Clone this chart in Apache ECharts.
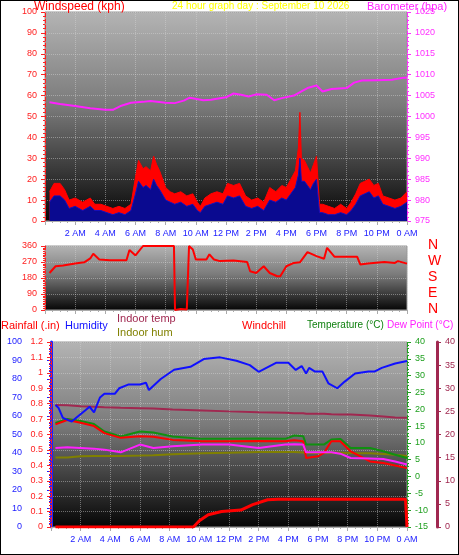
<!DOCTYPE html>
<html><head><meta charset="utf-8">
<script src="https://cdn.jsdelivr.net/npm/echarts@6/dist/echarts.min.js"></script>
<style>html,body{margin:0;padding:0;background:#fff}#c{width:459px;height:555px}#f{position:absolute;left:0;top:0;width:459px;height:555px;box-sizing:border-box;border:1px solid #000;pointer-events:none}</style>
</head><body><div id="c"></div><div id="f"></div>
<script>
// ---- data ----
const windT=[0.3,0.6,1.0,1.3,1.6,2.0,2.5,3.0,3.3,3.7,4.1,4.5,4.9,5.3,5.7,6.0,6.2,6.5,6.7,7.0,7.2,7.4,7.6,8.0,8.3,8.6,9.0,9.4,9.8,10.1,10.3,10.6,11.0,11.4,11.8,12.1,12.5,12.9,13.3,13.7,14.1,14.5,14.9,15.3,15.7,16.0,16.3,16.6,16.8,16.9,17.0,17.2,17.4,17.6,17.8,18.0,18.2,18.4,18.8,19.2,19.6,20.0,20.3,20.6,20.9,21.2,21.5,21.8,22.1,22.4,22.8,23.2,23.6,24.0];
const windGust=[14,18,18,15,10,11,9,11,8,8,7,6,7,6,8,21,29,25,26,24,31,27,24,16,14,13,14,12,13,9,7,11,13,14,13,18,17,18,12,10,11,9,16,14,17,16,20,24,35,52,30,29,26,23,27,31,8,8,7,6,8,6,9,13,18,19,20,17,18,12,11,10,11,14];
const windAvg=[9,12,12,10,6,7,5,7,5,5,4,3,4,3,5,13,19,16,17,15,20,17,15,10,9,8,9,7,8,5,4,7,8,9,8,12,11,12,7,6,7,5,10,9,11,10,13,16,22,30,19,19,17,15,18,20,4,4,3,3,4,3,5,8,12,13,14,11,12,8,7,6,7,9];
const baroT=[0.3,1,2,3,4,4.5,5,5.7,6.5,7,8,8.6,9.2,9.6,10.5,11,12,12.5,13,13.5,14,14.7,15.2,15.7,16.5,17,17.4,18,18.4,19,20,20.5,21,22,23,23.8,24];
const baro=[1003.4,1003,1002.5,1002,1001.6,1001.6,1002.5,1003.3,1003.5,1003.7,1003.3,1003.2,1003.8,1004.5,1003.9,1004,1004.6,1005.5,1005.2,1004.8,1005.3,1005.2,1003.9,1004.4,1005,1006,1006.8,1007.4,1006,1006.6,1006.8,1008.1,1008.6,1008.7,1008.8,1009.3,1009.3];
const dirT=[0.3,0.7,1.2,2.0,2.6,3.0,3.2,3.6,4.3,5.4,5.6,6.0,6.5,7.2,8.0,8.55,8.62,9.0,9.4,9.45,9.55,9.8,10.0,10.7,10.9,11.2,11.6,12.5,13.4,13.6,14.0,14.5,14.9,15.4,15.6,16.0,16.5,16.9,17.4,18.0,18.5,18.7,19.2,20.7,20.9,21.4,22.5,23.2,23.4,24.0];
const windDir=[208,246,250,262,268,290,316,284,280,280,337,307,360,360,360,360,0,5,3,5,360,340,284,284,313,284,275,278,270,218,208,246,208,190,190,246,265,268,326,303,288,350,299,299,256,262,270,265,275,261];
const humT=[0.3,0.5,0.8,1.4,1.7,2.3,2.6,2.9,3.3,3.6,4.3,4.6,5.2,6.0,6.4,6.6,7.4,8.3,9.4,10.3,11.4,12.5,13.4,14.0,15.2,16.0,16.5,16.9,17.2,17.4,17.8,18.3,18.7,19.3,19.8,20.5,21.4,21.8,22.3,23.2,24.0];
const humidity=[66,64.5,59,57,59,63,65,62,70,72,72,75,77,77,78,74,80,85,86.6,90.8,91.7,89.9,87.5,83.9,88.8,88.8,84.9,87,83,86,84,84,77.7,75,78.6,83,84,84,86,88.4,89.7];
const tT=[0.3,1.1,2.0,2.9,3.6,4.7,6.0,6.9,8.2,10.2,12,14,15.8,16.4,17.0,17.2,18.0,18.4,18.9,19.5,20.2,21.5,22.4,23.2,24.0];
const temperature=[15.9,17.1,16.5,15.6,13.4,11.9,13.4,13.1,11.9,11.2,11.2,11.3,11.2,12.2,12,9.5,9.5,9.5,11,11.2,8.5,8.5,7.5,6.5,5.5];
const windchill=[15.5,16.8,16,15,12.9,11.5,12,11.8,10.9,10.5,10.5,10.6,10.5,10.8,10.5,5.5,6,7,10.5,10.5,7.5,4.5,4,3.3,2.5];
const dewPoint=[8.5,8.7,8.5,8.3,8,7.2,9.5,8.5,9,9.5,9.5,8.5,9.5,9.6,9.5,7.2,7.2,7.2,7.2,6.8,5.5,5.4,5.2,4.5,3.6];
const indoorTemp=[26.4,26.3,26.1,26,25.9,25.8,25.7,25.6,25.4,25.2,25,24.8,24.7,24.6,24.6,24.5,24.5,24.5,24.4,24.3,24.3,24.1,23.9,23.7,23.6];
const indoorHum=[37.6,37.6,38.2,38.4,38.4,38.4,38.6,38.8,39.3,39.8,40.2,40.6,40.5,40.5,40.3,40,40,40,40.2,40.2,40,39.8,39.5,39,38.4];
const rainT=[0.3,9.6,10.0,10.6,11.5,12.8,13.6,14.6,15.3,23.9,24.0];
const rainfall=[0,0,0.04,0.08,0.1,0.11,0.145,0.177,0.18,0.18,0];
const compass=['N','W','S','E','N'];
// ---- chart ----
const F='Liberation Sans';
const pair=(t,v)=>t.map((x,i)=>[x,v[i]]);
const bg={type:'linear',x:0,y:0,x2:0,y2:1,colorStops:[{offset:0,color:'#b4b4b4'},{offset:0.45,color:'#7a7a7a'},{offset:1,color:'#050505'}]};
const hourFmt=v=>{if(v===0)return '';const h=v%24;if(h===0)return '0 AM';if(h===12)return '12 PM';return h<12?h+' AM':(h-12)+' PM';};
const split={show:true,lineStyle:{color:'rgba(215,215,215,0.45)',type:'dotted',width:1}};
function xa(gi,labels){return {type:'value',gridIndex:gi,min:0,max:24,interval:2,
 axisLabel:{show:labels,color:'#2020ff',fontSize:9,fontFamily:F,formatter:hourFmt,margin:8},
 axisLine:{show:true,lineStyle:{color:'#aaa'}},axisTick:{show:true,length:4,lineStyle:{color:'#aaa'}},
 minorTick:{show:true,splitNumber:4,length:2,lineStyle:{color:'#aaa'}},splitLine:split};}
function ya(o){const c=o.color;return Object.assign({type:'value',
 axisLabel:{color:c,fontSize:9,fontFamily:F,margin:8,formatter:v=>String(Math.round(v*10)/10)},
 axisLine:{show:true,lineStyle:{color:c,width:o.lw||1,type:o.lw?'solid':'dashed'}},
 axisTick:{show:true,length:4,lineStyle:{color:c}},
 minorTick:{show:true,splitNumber:o.minor||5,length:2,lineStyle:{color:c}},splitLine:{show:false}},o);}
const ln=(name,x,y,data,color,extra)=>Object.assign({name,type:'line',xAxisIndex:x,yAxisIndex:y,data,symbol:'none',lineStyle:{color,width:2},itemStyle:{color},animation:false},extra||{});
const txt=(t,x,y,c,extra)=>({type:'text',left:x,top:y,style:Object.assign({text:t,fill:c,font:'11px '+F},extra||{})});
const option={animation:false,
grid:[{left:45,right:52,top:12,height:209,show:true,backgroundColor:bg,borderColor:'#999'},
 {left:45,right:52,top:246,height:64,show:true,backgroundColor:bg,borderColor:'#999'},
 {left:51,right:52,top:342,height:185,show:true,backgroundColor:bg,borderColor:'#999'}],
xAxis:[xa(0,true),xa(1,false),xa(2,true)],
yAxis:[
 ya({gridIndex:0,min:0,max:100,interval:10,color:'#ff2020',position:'left',splitLine:split}),
 ya({gridIndex:0,min:975,max:1025,interval:5,color:'#ff30ff',position:'right'}),
 ya({gridIndex:1,min:0,max:360,interval:90,color:'#ff2020',position:'left',splitLine:split,minor:9}),
 ya({gridIndex:2,min:0,max:100,interval:10,color:'#2020ff',position:'left',offset:21,lw:3}),
 ya({gridIndex:2,min:0,max:1.2,interval:0.1,color:'#ff2020',position:'left',splitLine:split}),
 ya({gridIndex:2,min:-15,max:40,interval:5,color:'#20a020',position:'right'}),
 ya({gridIndex:2,min:0,max:40,interval:5,color:'#a02850',position:'right',offset:30,lw:3})
],
series:[
 ln('Gust',0,0,pair(windT,windGust),'#ff0000',{lineStyle:{color:'#ff0000',width:1},areaStyle:{color:'#ff0000',opacity:1},z:2}),
 ln('Wind',0,0,pair(windT,windAvg),'#0a0aa0',{lineStyle:{color:'#1010c0',width:1},areaStyle:{color:'#0a0a90',opacity:1},z:3}),
 ln('Barometer',0,1,pair(baroT,baro),'#ff20ff'),
 ln('Direction',1,2,pair(dirT,windDir),'#ff0000'),
 ln('Indoor temp',2,6,pair(tT,indoorTemp),'#a02850'),
 ln('Indoor hum',2,3,pair(tT,indoorHum),'#808000'),
 ln('Temperature',2,5,pair(tT,temperature),'#109010'),
 ln('Windchill',2,5,pair(tT,windchill),'#ff0000'),
 ln('Dew Point',2,5,pair(tT,dewPoint),'#ff20ff'),
 ln('Humidity',2,3,pair(humT,humidity),'#1010ff'),
 ln('Rainfall',2,4,pair(rainT,rainfall),'#ff0000',{lineStyle:{color:'#ff0000',width:3}})
],
graphic:[
 txt('Windspeed (kph)',34,1,'#ff0000',{font:'12px '+F}),
 txt('24 hour graph day : September 10 2026',172,1,'#ffff00',{font:'10px '+F}),
 txt('Barometer (hpa)',367,1,'#ff20ff'),
 ...compass.map((c,i)=>txt(c,428,238+i*16,'#ff0000',{font:'14px '+F})),
 txt('Rainfall (.in)',1,320,'#ff0000'),
 txt('Humidity',65,320,'#1010ff'),
 txt('Indoor temp',117,313,'#a02850'),
 txt('Indoor hum',117,327,'#808000'),
 txt('Windchill',242,320,'#ff0000'),
 txt('Temperature (°C)',307,320,'#108010',{font:'10px '+F}),
 txt('Dew Point (°C)',387,320,'#ff20ff',{font:'10px '+F})
]};
const ch=echarts.init(document.getElementById('c'));
ch.setOption(option);
</script></body></html>
